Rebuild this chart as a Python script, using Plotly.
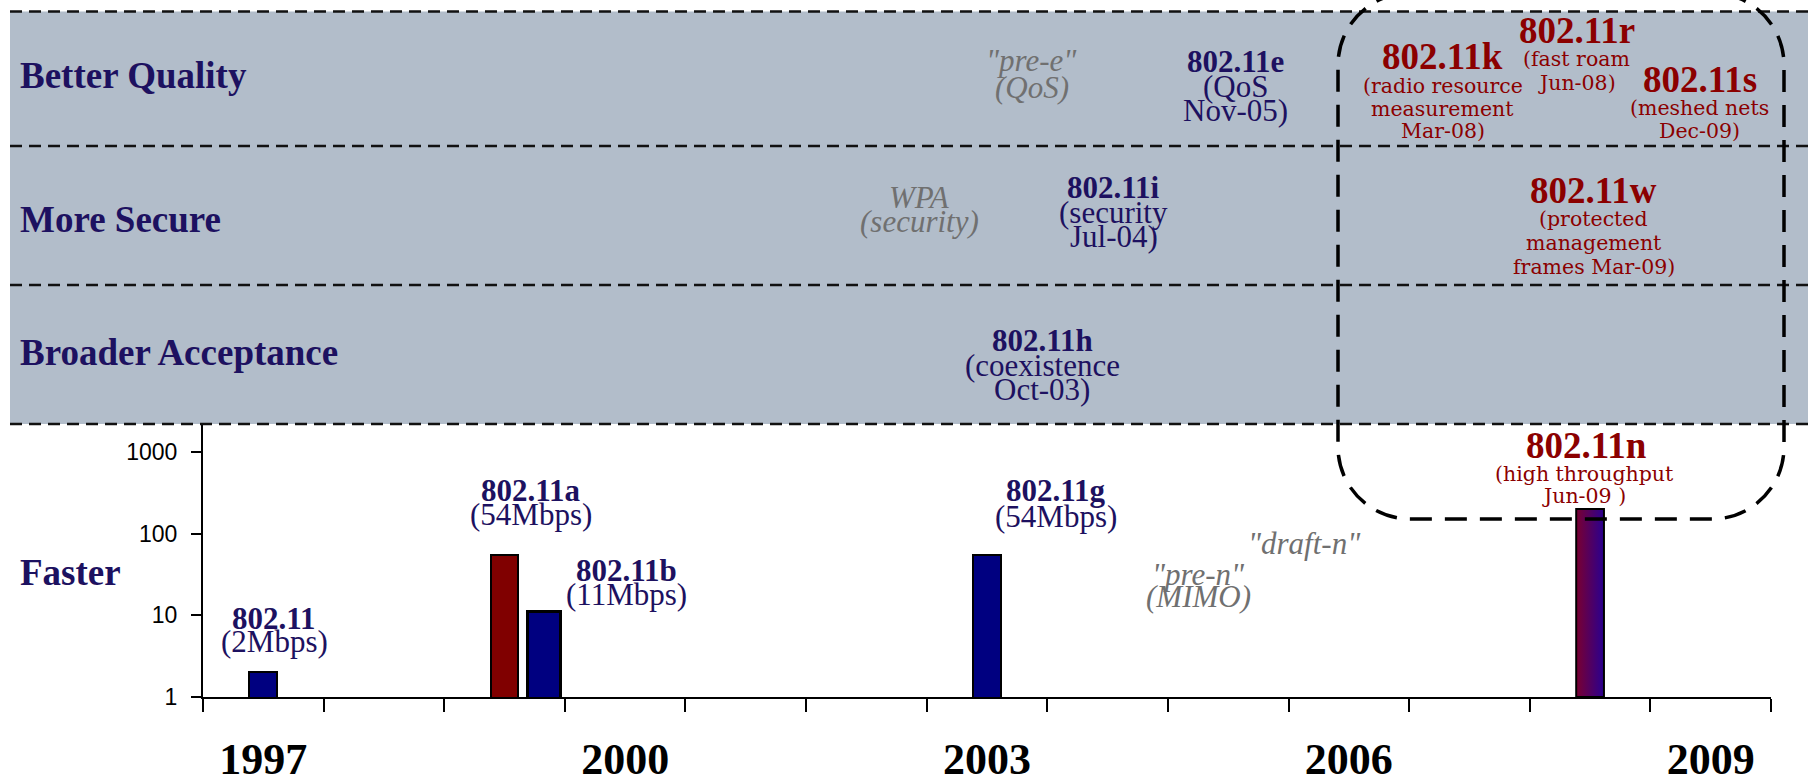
import plotly.graph_objects as go

# ---------------- data ----------------
bar_standards = ["802.11", "802.11a", "802.11b", "802.11g", "802.11n"]
bar_rates = ["(2Mbps)", "(54Mbps)", "(11Mbps)", "(54Mbps)", "(high throughput|Jun-09 )"]
bar_years = [1997.0, 1999.0, 1999.33, 2003.0, 2008.0]
speed_mbps = [2, 54, 11, 54, 200]

year_labels = [1997, 2000, 2003, 2006, 2009]
speed_ticks = [1, 10, 100, 1000]
band_names = ["Better Quality", "More Secure", "Broader Acceptance", "Faster"]

ratified = ["802.11e", "802.11i", "802.11h"]
ratified_desc = ["(QoS|Nov-05)", "(security|Jul-04)", "(coexistence|Oct-03)"]

prestandard = ['"pre-e"|(QoS)', "WPA|(security)", '"pre-n"|(MIMO)', '"draft-n"']

future = ["802.11k", "802.11r", "802.11s", "802.11w"]
future_desc = ["(radio resource|measurement|Mar-08)", "(fast roam|Jun-08)",
               "(meshed nets|Dec-09)", "(protected|management|frames Mar-09)"]

# ---------------- layout geometry (pixels) ----------------
W, H = 1808, 776
L, R, T, B = 203, 37, 424, 79
PW, PH = W - L - R, H - T - B


def pyp(p):
    return (H - B - p) / PH


def pxp(p):
    return (p - L) / PW


NAVY = "#1d1160"
RED = "#8b0000"
GRAY = "#707070"
SERIF = "Liberation Serif, Times New Roman, serif"
WIDE = "DejaVu Serif, serif"

fig = go.Figure()

# plain bars
n_plain = 4
fig.add_trace(go.Bar(
    x=bar_years[:n_plain], y=speed_mbps[:n_plain],
    width=[0.23, 0.23, 0.27, 0.23],
    marker=dict(color=["#000080", "#800000", "#000080", "#000080"],
                line=dict(color="black", width=[2, 2, 3, 2])),
    showlegend=False, hoverinfo="skip"))

# gradient bar (802.11n)
xn, vn, wn = bar_years[4], speed_mbps[4], 0.23
fig.add_trace(go.Scatter(
    x=[xn - wn / 2, xn + wn / 2, xn + wn / 2, xn - wn / 2, xn - wn / 2],
    y=[1, 1, vn, vn, 1], mode="lines", fill="toself",
    fillgradient=dict(type="horizontal",
                      colorscale=[[0, "#7a0030"], [1, "#2a0090"]]),
    line=dict(color="black", width=2), showlegend=False, hoverinfo="skip"))

shapes = []
# gray band
shapes.append(dict(type="rect", xref="paper", yref="paper",
                   x0=pxp(10), x1=pxp(W), y0=pyp(424), y1=pyp(11.5),
                   fillcolor="#b2bdca", line=dict(width=0), layer="below"))
for yy in [11.5, 146, 285, 424]:
    shapes.append(dict(type="line", xref="paper", yref="paper",
                       x0=pxp(10), x1=pxp(W), y0=pyp(yy), y1=pyp(yy),
                       line=dict(color="#111111", width=2.5, dash="12px,7px")))


def rounded_path(x0, y0, x1, y1, r):
    k = 0.5523 * r
    P = lambda x, y: f"{pxp(x):.5f},{pyp(y):.5f}"
    return (f"M {P(x0 + r, y0)} L {P(x1 - r, y0)} "
            f"C {P(x1 - r + k, y0)} {P(x1, y0 + r - k)} {P(x1, y0 + r)} "
            f"L {P(x1, y1 - r)} "
            f"C {P(x1, y1 - r + k)} {P(x1 - r + k, y1)} {P(x1 - r, y1)} "
            f"L {P(x0 + r, y1)} "
            f"C {P(x0 + r - k, y1)} {P(x0, y1 - r + k)} {P(x0, y1 - r)} "
            f"L {P(x0, y0 + r)} "
            f"C {P(x0, y0 + r - k)} {P(x0 + r - k, y0)} {P(x0 + r, y0)} Z")


shapes.append(dict(type="path", xref="paper", yref="paper",
                   path=rounded_path(1338, -7, 1784, 519, 72),
                   line=dict(color="black", width=3.5, dash="22px,13px"),
                   layer="above"))

annotations = []


def add(text, x, ypix, size, color, family=SERIF, xref="x", xanchor="center"):
    annotations.append(dict(text=text, x=x, y=pyp(ypix), xref=xref, yref="paper",
                            xanchor=xanchor, yanchor="middle", showarrow=False,
                            font=dict(family=family, size=size, color=color)))


# band labels
band_y = [75, 219, 352, 572]
for name, yy in zip(band_names, band_y):
    add(f"<b>{name}</b>", pxp(18), yy, 37, NAVY, xref="paper", xanchor="left")

# bar labels (navy ones)
bar_lab_x = [1997.09, 1999.22, 2000.01, 2003.57]
bar_lab_y = [(618, 641), (490, 514.5), (570, 594), (490, 516)]
for i in range(4):
    add(f"<b>{bar_standards[i]}</b>", bar_lab_x[i], bar_lab_y[i][0], 31, NAVY)
    add(bar_rates[i], bar_lab_x[i], bar_lab_y[i][1], 31, NAVY)

# ratified standards in bands
rat_x = [2005.06, 2004.05, 2003.46]
rat_y = [(62, 86, 110), (187, 212, 236), (340, 365, 389)]
for name, desc, xx, ys in zip(ratified, ratified_desc, rat_x, rat_y):
    add(f"<b>{name}</b>", xx, ys[0], 31, NAVY)
    for line, yy in zip(desc.split("|"), ys[1:]):
        add(line, xx, yy, 31, NAVY)

# pre-standard (gray italic)
pre_x = [2003.37, 2002.44, 2004.75, 2005.63]
pre_y = [(61, 87), (197, 221), (574, 596), (543,)]
for txt, xx, ys in zip(prestandard, pre_x, pre_y):
    for line, yy in zip(txt.split("|"), ys):
        add(f"<i>{line}</i>", xx, yy, 31, GRAY)

# future (red)
fut_x = [2006.78, 2007.89, 2008.91, 2008.03]
fut_title_y = [57, 31, 79, 191]
fut_desc_y = [(86, 109, 131), (59.5, 82.5), (108, 131), (219, 243, 267)]
for name, desc, xx, ty, ys in zip(future, future_desc, fut_x, fut_title_y, fut_desc_y):
    add(f"<b>{name}</b>", xx, ty, 37, RED)
    for line, yy in zip(desc.split("|"), ys):
        add(line, xx, yy, 20.5, RED, family=WIDE)

# 802.11n label
add(f"<b>{bar_standards[4]}</b>", 2007.97, 445, 37, RED)
for line, yy in zip(bar_rates[4].split("|"), (474, 496)):
    add(line, 2007.95, yy, 20.5, RED, family=WIDE)

fig.update_layout(
    width=W, height=H, margin=dict(l=L, r=R, t=T, b=B, pad=0, autoexpand=False),
    paper_bgcolor="white", plot_bgcolor="white", showlegend=False,
    shapes=shapes, annotations=annotations, bargap=0,
    xaxis=dict(range=[1996.5, 2009.5], tickvals=year_labels,
               ticktext=[str(y) for y in year_labels], ticks="",
               tickfont=dict(family=SERIF, size=44, color="black", weight="bold"),
               ticklabelstandoff=22, automargin=False,
               showline=True, linecolor="black", linewidth=2,
               showgrid=False, zeroline=False,
               minor=dict(tickvals=[1996.5 + i for i in range(14)], ticks="outside",
                          ticklen=13, tickwidth=2, tickcolor="black", showgrid=False)),
    yaxis=dict(type="log", range=[0, 3.34], tickvals=speed_ticks,
               ticktext=[str(v) for v in speed_ticks], ticks="outside",
               ticklen=10, tickwidth=2, tickcolor="black",
               ticklabelstandoff=9, automargin=False,
               showline=True, linecolor="black", linewidth=2,
               showgrid=False, zeroline=False,
               tickfont=dict(family="Liberation Sans Narrow, Arial Narrow, Liberation Sans, Arial",
                             size=23, color="black")),
)

fig.write_html("out.html", config={"displayModeBar": False},
               post_script="document.body.style.margin='0px';")
